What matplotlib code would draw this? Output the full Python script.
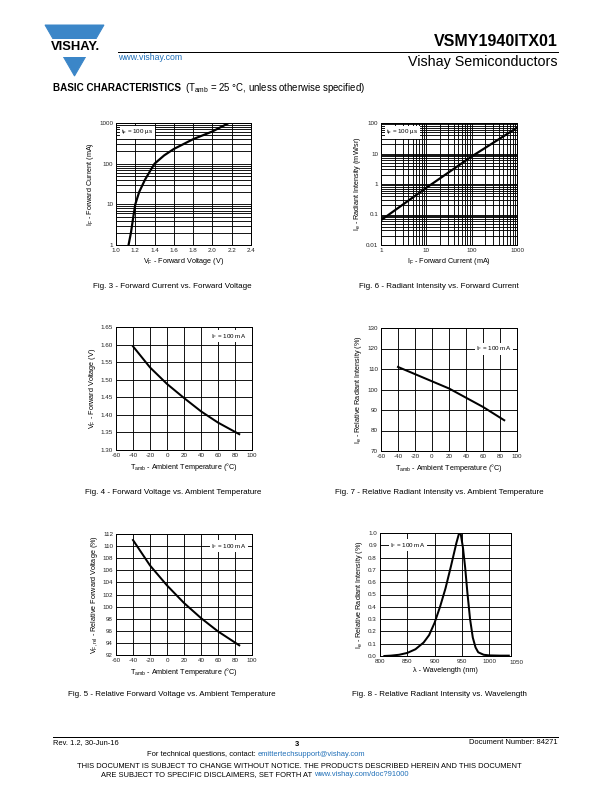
import numpy as np
import matplotlib.pyplot as plt
from matplotlib.patches import Polygon, Rectangle
from matplotlib.ticker import NullFormatter, LogLocator

plt.rcParams["font.family"] = ["Liberation Sans", "DejaVu Sans"]
plt.rcParams["mathtext.default"] = "regular"
plt.rcParams["axes.unicode_minus"] = False

# =========================
# data
# =========================

# Fig. 3 - forward current vs forward voltage
fig3_vf = [1.13, 1.155, 1.18, 1.20, 1.24, 1.30, 1.36, 1.40, 1.50, 1.60, 1.80, 2.00, 2.17]
fig3_if = [1, 2, 5, 10, 20, 40, 70, 100, 160, 230, 400, 620, 1000]

# Fig. 6 - radiant intensity vs forward current
fig6_if = [1, 10, 100, 1000]
fig6_ie = [0.065, 0.75, 8.0, 70.0]

# Fig. 4 - forward voltage vs ambient temperature
fig4_t = [-40, -20, 0, 20, 40, 60, 85]
fig4_vf = [1.595, 1.535, 1.488, 1.448, 1.41, 1.378, 1.345]

# Fig. 7 - relative radiant intensity vs ambient temperature
fig7_t = [-40, -20, 0, 20, 40, 60, 85]
fig7_ie = [111, 107.5, 104, 100.5, 96, 91.5, 85]

# Fig. 5 - relative forward voltage vs ambient temperature
fig5_t = [-40, -20, 0, 20, 40, 60, 85]
fig5_vf = [111, 106.8, 103.5, 100.6, 98.1, 95.9, 93.6]

# Fig. 8 - relative radiant intensity vs wavelength
fig8_wl = [808, 820, 835, 850, 865, 880, 890, 900, 910, 920, 930, 940, 945, 948,
           952, 956, 960, 965, 970, 975, 980, 990, 1000, 1020, 1036]
fig8_ie = [0.0, 0.003, 0.01, 0.025, 0.055, 0.11, 0.17, 0.27, 0.40, 0.55, 0.73, 0.92, 1.0, 0.99,
           0.88, 0.72, 0.52, 0.30, 0.15, 0.07, 0.03, 0.01, 0.005, 0.003, 0.003]

# =========================
# page
# =========================

W, H = 612, 792
fig = plt.figure(figsize=(W / 72, H / 72), dpi=72)
BLUE = "#3b86c8"
LINK = "#1f6fb8"
TICK_FS = 6.3
LAB_FS = 7.3
CAP_FS = 8.0


def px_axes(x0, y0, x1, y1):
    return fig.add_axes([x0 / W, 1 - y1 / H, (x1 - x0) / W, (y1 - y0) / H])


def ftext(x, y, s, **kw):
    return fig.text(x / W, 1 - y / H, s, **kw)


def style(ax):
    for sp in ax.spines.values():
        sp.set_linewidth(1.0)
        sp.set_color("black")
    ax.tick_params(which="both", length=0, pad=3, labelsize=TICK_FS, colors="#222222")
    ax.grid(True, which="both", color="black", linewidth=0.9)
    ax.set_axisbelow(True)


def label_box(ax, x, y, s, ha="left"):
    ax.text(x, y, s, transform=ax.transAxes, fontsize=TICK_FS, ha=ha, va="center",
            bbox=dict(facecolor="white", edgecolor="none", pad=1.5), zorder=4)


# header: logo and rules
logo = fig.add_axes([0, 0, 1, 1], zorder=-1)
logo.set_xlim(0, W)
logo.set_ylim(H, 0)
logo.axis("off")
logo.add_patch(Polygon([[45, 25], [104, 25], [74.5, 76]], closed=True, color=BLUE))
logo.add_patch(Rectangle((38, 38.5), 74, 17, color="white"))
logo.text(75, 47.5, "VISHAY.", fontsize=13, fontweight="bold", ha="center", va="center")
logo.plot([118, 558], [52, 52], color="black", linewidth=1.0)
logo.plot([53, 558], [737, 737], color="black", linewidth=1.0)

ftext(558, 42, "VSMY1940ITX01", fontsize=16, fontweight="bold", ha="right", va="center")
ftext(558, 62, "Vishay Semiconductors", fontsize=14.2, ha="right", va="center")
ftext(118, 58, "www.vishay.com", fontsize=8.7, color=LINK, ha="left", va="center")
ftext(53, 88, "BASIC CHARACTERISTICS", fontsize=9.9, fontweight="bold", ha="left", va="center")
ftext(185, 88, "(T$_{amb}$ = 25 °C, unless otherwise specified)", fontsize=9.6, ha="left", va="center")

# =========================
# Fig. 3
# =========================
ax3 = px_axes(116, 123, 251, 245)
ax3.set_yscale("log")
ax3.plot(fig3_vf, fig3_if, color="black", linewidth=2.2, zorder=3)
ax3.set_xlim(1.0, 2.4)
ax3.set_ylim(1, 1000)
ax3.set_xticks(np.arange(1.0, 2.41, 0.2))
ax3.set_xticklabels(["1.0", "1.2", "1.4", "1.6", "1.8", "2.0", "2.2", "2.4"])
ax3.set_yticks([1, 10, 100, 1000])
ax3.set_yticklabels(["1", "10", "100", "1000"])
ax3.yaxis.set_minor_locator(LogLocator(base=10, subs=np.arange(2, 10)))
ax3.yaxis.set_minor_formatter(NullFormatter())
style(ax3)
ax3.set_xlabel("V$_F$ - Forward Voltage (V)", fontsize=LAB_FS, labelpad=3)
ax3.set_ylabel("I$_F$ - Forward Current (mA)", fontsize=LAB_FS, labelpad=3)
label_box(ax3, 0.04, 0.92, "t$_p$ = 100 µs")
ftext(172, 287, "Fig. 3 - Forward Current vs. Forward Voltage", fontsize=CAP_FS, ha="center", va="center")

# =========================
# Fig. 6
# =========================
ax6 = px_axes(381, 123, 517, 245)
ax6.set_xscale("log")
ax6.set_yscale("log")
ax6.plot(fig6_if, fig6_ie, color="black", linewidth=2.2, zorder=3)
ax6.set_xlim(1, 1000)
ax6.set_ylim(0.01, 100)
ax6.set_xticks([1, 10, 100, 1000])
ax6.set_xticklabels(["1", "10", "100", "1000"])
ax6.set_yticks([0.01, 0.1, 1, 10, 100])
ax6.set_yticklabels(["0.01", "0.1", "1", "10", "100"])
for axis in (ax6.xaxis, ax6.yaxis):
    axis.set_minor_locator(LogLocator(base=10, subs=np.arange(2, 10)))
    axis.set_minor_formatter(NullFormatter())
style(ax6)
ax6.set_xlabel("I$_F$ - Forward Current (mA)", fontsize=LAB_FS, labelpad=3)
ax6.set_ylabel("I$_e$ - Radiant Intensity (mW/sr)", fontsize=LAB_FS, labelpad=3)
label_box(ax6, 0.04, 0.92, "t$_p$ = 100 µs")
ftext(439, 287, "Fig. 6 - Radiant Intensity vs. Forward Current", fontsize=CAP_FS, ha="center", va="center")

# =========================
# Fig. 4
# =========================
ax4 = px_axes(116, 327, 252, 450)
ax4.plot(fig4_t, fig4_vf, color="black", linewidth=2.0, zorder=3)
ax4.set_xlim(-60, 100)
ax4.set_ylim(1.30, 1.65)
ax4.set_xticks(np.arange(-60, 101, 20))
ax4.set_yticks(np.arange(1.30, 1.651, 0.05))
ax4.set_yticklabels(["%.2f" % v for v in np.arange(1.30, 1.651, 0.05)])
style(ax4)
ax4.set_xlabel("T$_{amb}$ - Ambient Temperature (°C)", fontsize=LAB_FS, labelpad=3)
ax4.set_ylabel("V$_F$ - Forward Voltage (V)", fontsize=LAB_FS, labelpad=3)
label_box(ax4, 0.96, 0.925, "I$_F$ = 100 mA", ha="right")
ftext(173, 492, "Fig. 4 - Forward Voltage vs. Ambient Temperature", fontsize=CAP_FS, ha="center", va="center")

# =========================
# Fig. 7
# =========================
ax7 = px_axes(381, 328, 517, 451)
ax7.plot(fig7_t, fig7_ie, color="black", linewidth=2.0, zorder=3)
ax7.set_xlim(-60, 100)
ax7.set_ylim(70, 130)
ax7.set_xticks(np.arange(-60, 101, 20))
ax7.set_yticks(np.arange(70, 131, 10))
style(ax7)
ax7.set_xlabel("T$_{amb}$ - Ambient Temperature (°C)", fontsize=LAB_FS, labelpad=3)
ax7.set_ylabel("I$_e$ - Relative Radiant Intensity (%)", fontsize=LAB_FS, labelpad=3)
label_box(ax7, 0.96, 0.833, "I$_F$ = 100 mA", ha="right")
ftext(439, 492, "Fig. 7 - Relative Radiant Intensity vs. Ambient Temperature", fontsize=CAP_FS, ha="center", va="center")

# =========================
# Fig. 5
# =========================
ax5 = px_axes(116, 534, 252, 655)
ax5.plot(fig5_t, fig5_vf, color="black", linewidth=2.0, zorder=3)
ax5.set_xlim(-60, 100)
ax5.set_ylim(92, 112)
ax5.set_xticks(np.arange(-60, 101, 20))
ax5.set_yticks(np.arange(92, 113, 2))
style(ax5)
ax5.set_xlabel("T$_{amb}$ - Ambient Temperature (°C)", fontsize=LAB_FS, labelpad=3)
ax5.set_ylabel("V$_{F,rel}$ - Relative Forward Voltage (%)", fontsize=LAB_FS, labelpad=3)
label_box(ax5, 0.96, 0.9, "I$_F$ = 100 mA", ha="right")
ftext(172, 695, "Fig. 5 - Relative Forward Voltage vs. Ambient Temperature", fontsize=CAP_FS, ha="center", va="center")

# =========================
# Fig. 8
# =========================
ax8 = px_axes(380, 533, 511, 656)
ax8.plot(fig8_wl, fig8_ie, color="black", linewidth=2.0, zorder=3)
ax8.set_xlim(800, 1040)
ax8.set_ylim(0, 1.0)
ax8.set_xticks(np.arange(800, 1001, 50))
ax8.set_yticks(np.arange(0, 1.01, 0.1))
ax8.set_yticklabels(["%.1f" % v for v in np.arange(0, 1.01, 0.1)])
style(ax8)
ax8.text(1050, -0.03, "1050", transform=ax8.transData, fontsize=TICK_FS, color="#222222",
         ha="center", va="top", clip_on=False)
ax8.set_xlabel("λ - Wavelength (nm)", fontsize=LAB_FS, labelpad=3)
ax8.set_ylabel("I$_e$ - Relative Radiant Intensity (%)", fontsize=LAB_FS, labelpad=3)
label_box(ax8, 0.08, 0.9, "I$_F$ = 100 mA")
ftext(439, 695, "Fig. 8 - Relative Radiant Intensity vs. Wavelength", fontsize=CAP_FS, ha="center", va="center")

# =========================
# footer
# =========================
FOOT_FS = 7.5
ftext(53, 743, "Rev. 1.2, 30-Jun-16", fontsize=FOOT_FS, ha="left", va="center")
ftext(297, 744, "3", fontsize=FOOT_FS, fontweight="bold", ha="center", va="center")
ftext(558, 743, "Document Number: 84271", fontsize=FOOT_FS, ha="right", va="center")
ftext(258, 755, "For technical questions, contact: ", fontsize=FOOT_FS, ha="right", va="center")
ftext(258, 755, "emittertechsupport@vishay.com", fontsize=FOOT_FS, ha="left", va="center", color=LINK)
ftext(299, 766, "THIS DOCUMENT IS SUBJECT TO CHANGE WITHOUT NOTICE. THE PRODUCTS DESCRIBED HEREIN AND THIS DOCUMENT",
      fontsize=FOOT_FS, ha="center", va="center")
ftext(314, 775, "ARE SUBJECT TO SPECIFIC DISCLAIMERS, SET FORTH AT ", fontsize=FOOT_FS, ha="right", va="center")
ftext(314, 775, "www.vishay.com/doc?91000", fontsize=FOOT_FS, ha="left", va="center", color=LINK)

fig.savefig("out.png", dpi=72)
